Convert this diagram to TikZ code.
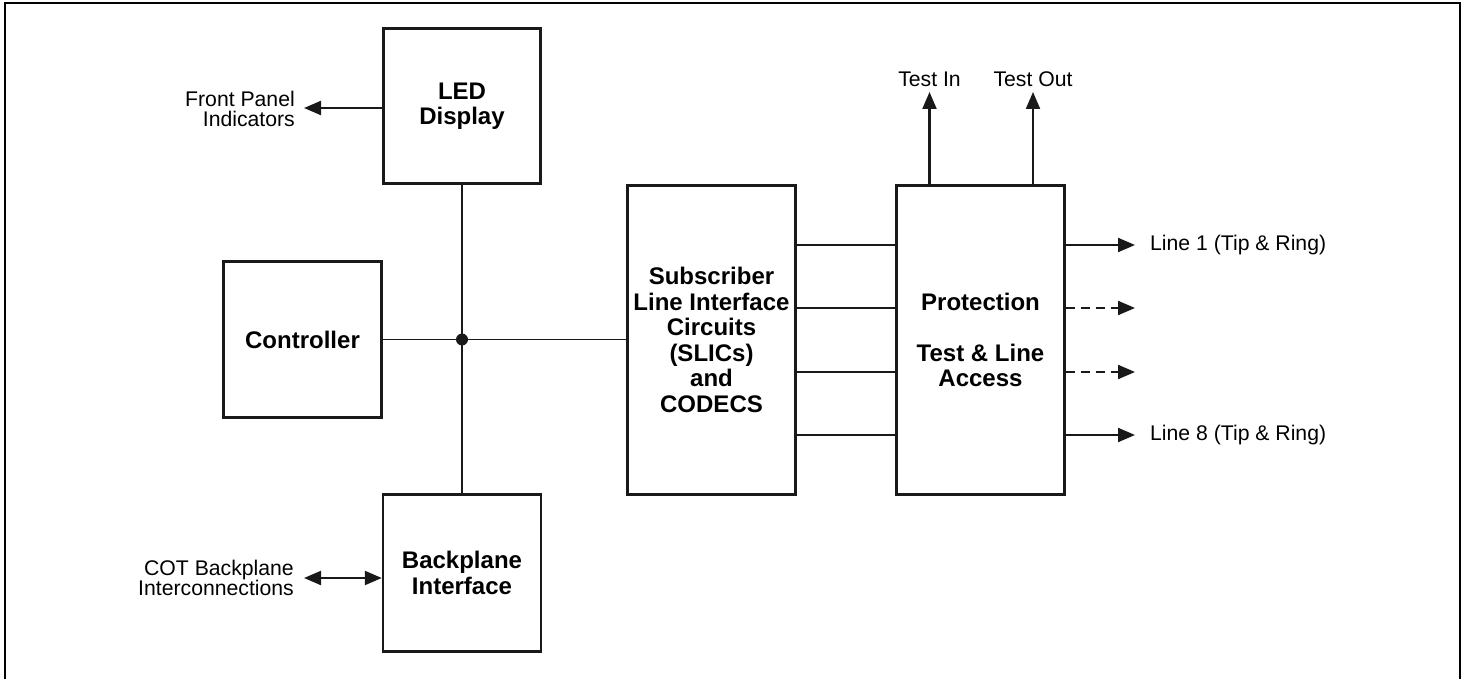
\documentclass[tikz,border=0pt]{standalone}
\usepackage{fontspec}
\setmainfont{Liberation Sans}
\usetikzlibrary{arrows.meta}
\begin{document}
\begin{tikzpicture}[x=1pt,y=-1pt,
  blk/.style={draw=black!90, line width=2.4pt, rectangle, inner sep=0pt, align=center,
    font=\bfseries\fontsize{24}{25.5}\selectfont},
  lbl/.style={inner sep=0pt, font=\fontsize{21.2}{20.5}\selectfont},
  wire/.style={draw=black!90, line width=2.1pt},
  bus/.style={draw=black!90, line width=1.9pt},
  arr/.style={wire, -{Triangle[length=17pt,width=14pt]}},
  darr/.style={wire, {Triangle[length=17pt,width=14pt]}-{Triangle[length=17pt,width=14pt]}},
  dasharr/.style={arr, dash pattern=on 9pt off 6pt}]
\useasboundingbox (0,0) rectangle (1465,679);
% outer frame (open at bottom)
\draw[line width=2pt] (5,679) -- (5,3) -- (1459.5,3) -- (1459.5,679);

% blocks
\node[blk, minimum width=157pt, minimum height=155pt] (led) at (462,106) {LED\\Display};
\node[blk, minimum width=158pt, minimum height=156pt] (ctrl) at (302.5,339.5) {Controller};
\node[blk, minimum width=158pt, minimum height=157pt] (bp) at (462,573) {Backplane\\Interface};
\node[blk, minimum width=168pt, minimum height=309pt] (slic) at (711.5,340) {Subscriber\\Line Interface\\Circuits\\(SLICs)\\and\\CODECS};
\node[blk, minimum width=168pt, minimum height=309pt] (prot) at (980.5,340) {Protection\\[25.5pt]Test \& Line\\Access};

% bus
\coordinate (j) at (462,339.5);
\draw[bus] (led.south) -- (bp.north);
\draw[bus] (ctrl.east |- j) -- (j) -- (slic.west |- j);
\fill[black!90] (j) circle (6pt);

% SLIC to protection
\coordinate (r1) at (0,245);
\coordinate (r2) at (0,308);
\coordinate (r3) at (0,372);
\coordinate (r4) at (0,435);
\foreach \r in {r1,r2,r3,r4}
  \draw[wire] (slic.east |- \r) -- (prot.west |- \r);

% outputs
\coordinate (o1) at (1135,245);
\coordinate (o2) at (1135,308);
\coordinate (o3) at (1135,372);
\coordinate (o4) at (1135,435);
\draw[arr] (prot.east |- o1) -- (o1);
\draw[dasharr] (prot.east |- o2) -- (o2);
\draw[dasharr] (prot.east |- o3) -- (o3);
\draw[arr] (prot.east |- o4) -- (o4);
\node[lbl, anchor=west] (l1) at (1150,245) {Line 1 (Tip \& Ring)};
\node[lbl, anchor=west] (l8) at (1150,435) {Line 8 (Tip \& Ring)};

% test in / out
\coordinate (ti) at (929.5,92);
\coordinate (to) at (1033,92);
\draw[arr] (prot.north -| ti) -- (ti);
\draw[arr] (prot.north -| to) -- (to);
\node[lbl] (til) at (929.5,79) {Test In};
\node[lbl] (tol) at (1033,79) {Test Out};

% front panel
\coordinate (fp) at (304,108);
\draw[arr] (led.west |- fp) -- (fp);
\node[lbl, anchor=east, align=right] (fpl) at (295,109) {Front Panel\\Indicators};

% COT backplane
\coordinate (cot) at (304,578);
\draw[darr] (cot) -- (bp.west |- cot);
\node[lbl, anchor=east, align=right] (cotl) at (294,578) {COT Backplane\\Interconnections};
\end{tikzpicture}
\end{document}
